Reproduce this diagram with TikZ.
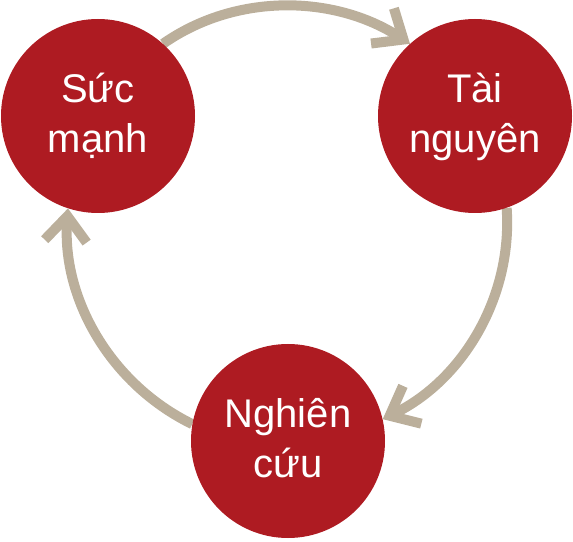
\documentclass[tikz,border=0pt]{standalone}
\usepackage{fontspec}
\setmainfont{Liberation Sans}
\usetikzlibrary{arrows.meta,backgrounds}
\definecolor{circred}{RGB}{174,27,34}
\definecolor{arrtan}{RGB}{187,175,155}
\tikzset{
  bigdot/.style={circle,fill=circred,draw=none,minimum size=194pt,inner sep=0pt,
    text=white,align=center,font=\fontsize{40}{50}\selectfont},
  cyclearrow/.style={draw=arrtan,line width=10pt,
    -{Straight Barb[length=25pt,width=42pt]},looseness=0.93}
}
\newcommand{\topstrut}{\rule{0pt}{32pt}}
\newcommand{\botstrut}{\rule[-9pt]{0pt}{9pt}}
\begin{document}
\begin{tikzpicture}[x=1pt,y=1pt]
\useasboundingbox (0,0) rectangle (573,541);
\node[bigdot] (sm) at (98,425) {\topstrut Sức\\mạnh\botstrut};
\node[bigdot] (tn) at (475,425) {\topstrut Tài\\nguyên\botstrut};
\node[bigdot] (nc) at (288,100) {\topstrut Nghiên\\cứu\botstrut};
\begin{pgfonlayer}{background}
\draw[cyclearrow] (sm.48) to[out=35,in=147] (tn.132);
\draw[cyclearrow] (tn.-71) to[out=-86,in=26] (nc.13);
\draw[cyclearrow] (nc.170) to[out=154,in=266] (sm.252);
\end{pgfonlayer}
\end{tikzpicture}
\end{document}
